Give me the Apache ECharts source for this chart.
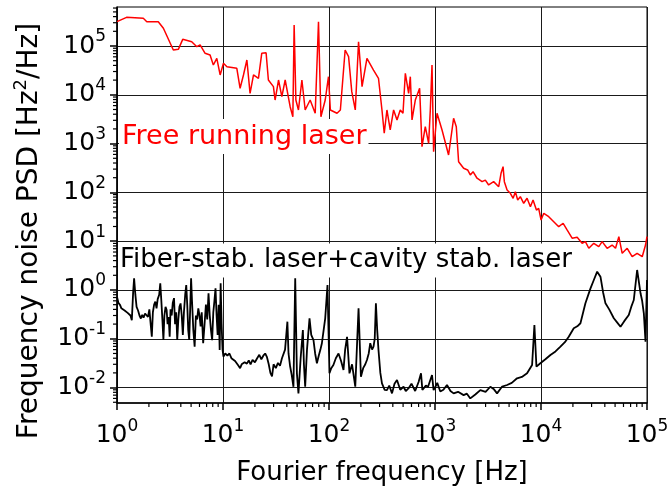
<!DOCTYPE html>
<html>
<head>
<meta charset="utf-8">
<script src="https://cdn.jsdelivr.net/npm/echarts@6/dist/echarts.min.js"></script>
<style>html,body{margin:0;padding:0;background:#fff;}#c{width:672px;height:495px;}</style>
</head>
<body>
<div id="c"></div>
<script>
// ---- Axis tick labels (decades) ----
const xTickValues = [1, 10, 100, 1000, 10000, 100000];
const yTickValues = [0.01, 0.1, 1, 10, 100, 1000, 10000, 100000];
const xMin = 1, xMax = 100000;
const yMin = 0.00483, yMax = 630000;

// ---- Free running laser (red) ----
const redFreq = [1, 1.23, 1.77, 1.91, 2.45, 2.74, 3.40, 3.79, 4.17, 5.07, 5.66, 6.08, 6.78, 7.55, 8.11, 8.74, 9.40, 10.1, 10.9, 13.5,
  14.5, 15.6, 16.8, 18.0, 19.4, 21.6, 23.2, 25.5, 26.8, 29.9, 31.0, 33.4, 35.9, 38.6, 43.0, 45.6, 46.9, 48.7, 51.5, 55.5,
  59.6, 66.4, 74.1, 79.6, 83.9, 92.1, 98.9, 103, 119, 128, 142, 153, 164, 177, 190, 205, 228, 263, 293, 316,
  332, 352, 378, 407, 438, 470, 499, 525, 564, 585, 607, 652, 716, 754, 810, 871, 903, 937, 970, 1045,
  1165, 1343, 1498, 1588, 1670, 1862, 2032, 2153, 2285, 2493, 2780, 2985, 3207, 3575, 3990, 4197, 4386, 4511, 4786, 5140,
  5458, 5731, 6026, 6383, 6866, 7389, 7943, 8414, 9057, 9506, 10020, 10620, 11830, 13190, 14700, 16180, 17620, 19660, 21930, 24430,
  26240, 28240, 31480, 35070, 37760, 42070, 46880, 50470, 54250, 58340, 65010, 72440, 80720, 90160, 96830, 100000];
const redPsd = [315000, 387000, 370000, 315000, 315000, 231000, 82800, 85500, 137000, 122000, 96800, 105000, 70800, 65400, 40800, 56000, 25500, 44200, 37700, 34900,
  13600, 25500, 51600, 10700, 25500, 21800, 70800, 72900, 20100, 14700, 7820, 20100, 9140, 20100, 5700, 3560, 269000, 7820, 4890, 20100,
  4890, 7820, 4180, 315000, 3560, 7820, 23500, 4890, 4180, 4890, 82800, 60400, 11600, 4890, 122000, 14700, 56000, 32200, 21800, 4890,
  1630, 4890, 1900, 4890, 3050, 4890, 4180, 27600, 10700, 23500, 3050, 7820, 13600, 863, 2220, 1010, 4890, 40800, 683, 4180,
  1900, 584, 3300, 2220, 425, 312, 288, 228, 266, 195, 166, 179, 142, 166, 131, 246, 337, 166, 112, 95.9,
  75.7, 103, 69.8, 81.7, 59.8, 75.7, 50.9, 69.8, 43.5, 47.2, 27.2, 37.3, 31.8, 25.1, 19.8, 23.3, 17.0, 11.5, 12.0, 9.06,
  9.78, 7.16, 9.06, 7.71, 9.78, 7.16, 8.35, 7.16, 12.4, 5.65, 7.16, 4.81, 5.65, 4.81, 8.35, 12.4];

// ---- Fiber-stab. laser + cavity stab. laser (black) ----
const blackFreq = [1, 1.03, 1.07, 1.10, 1.14, 1.18, 1.22, 1.26, 1.30, 1.34, 1.38, 1.42, 1.45, 1.49, 1.53, 1.58, 1.63, 1.68, 1.73, 1.78,
  1.84, 1.90, 1.96, 2.02, 2.07, 2.13, 2.18, 2.24, 2.30, 2.36, 2.42, 2.50, 2.56, 2.62, 2.68, 2.74, 2.80, 2.87, 2.94, 3.00,
  3.07, 3.14, 3.20, 3.28, 3.36, 3.45, 3.53, 3.62, 3.70, 3.79, 3.88, 3.98, 4.08, 4.18, 4.28, 4.40, 4.50, 4.60, 4.70, 4.80,
  4.90, 5.00, 5.10, 5.25, 5.40, 5.55, 5.70, 5.85, 6.00, 6.15, 6.30, 6.50, 6.70, 6.90, 7.10, 7.30, 7.50, 7.70, 7.90, 8.10,
  8.30, 8.50, 8.70, 8.90, 9.10, 9.30, 9.50, 9.70, 9.90, 10.1, 10.5, 11.0, 11.5, 12.0, 12.5, 13.0, 13.5, 14.0, 14.5, 15.0,
  15.5, 16.0, 16.8, 17.5, 18.2, 19.0, 20.0, 21.0, 22.0, 23.0, 24.0, 25.0, 26.0, 27.0, 28.0, 29.0, 30.0, 31.5, 33.0, 34.5,
  36.0, 37.0, 38.5, 40.5, 41.5, 43.0, 44.5, 46.2, 48.0, 49.8, 51.5, 54.0, 56.7, 58.0, 59.6, 62.0, 65.5, 68.0, 71.4, 74.0,
  76.9, 80.0, 83.0, 85.7, 89.0, 92.1, 96.8, 101, 105, 110, 116, 123, 130, 137, 142, 148, 156, 165, 177, 184,
  190, 200, 210, 220, 228, 237, 245, 255, 263, 270, 277, 285, 293, 305, 316, 335, 352, 370, 393, 415,
  438, 470, 505, 530, 564, 600, 650, 700, 738, 760, 780, 820, 860, 900, 937, 970, 1000, 1050, 1122, 1200,
  1297, 1400, 1498, 1650, 1862, 2000, 2153, 2400, 2677, 3000, 3326, 3600, 3850, 4300, 4786, 5300, 5943, 6600, 7389, 8241,
  8665, 9057, 9860, 11000, 12270, 13700, 15250, 16800, 18270, 20370, 22000, 23560, 26240, 29300, 31500, 33880, 36390, 38500, 40570, 44000,
  48640, 52000, 56230, 61000, 67300, 71000, 75050, 80720, 86890, 90000, 93350, 96830, 100000];
const blackPsd = [0.73, 0.55, 0.49, 0.42, 0.45, 0.38, 0.40, 0.34, 0.36, 0.30, 0.24, 0.90, 1.74, 0.80, 0.45, 0.38, 0.30, 0.26, 0.31, 0.27,
  0.33, 0.36, 0.28, 0.40, 0.22, 0.11, 0.35, 0.50, 0.58, 0.42, 0.65, 0.80, 1.37, 0.60, 0.25, 0.095, 0.30, 0.45, 0.39, 0.20,
  0.28, 0.11, 0.40, 0.30, 0.55, 0.68, 0.20, 0.35, 0.095, 0.25, 0.45, 0.53, 0.30, 0.12, 0.35, 0.80, 1.26, 0.50, 0.15, 0.095,
  0.40, 1.74, 0.60, 0.15, 0.069, 0.30, 0.25, 0.42, 0.30, 0.18, 0.35, 0.081, 0.20, 0.50, 0.25, 0.86, 0.30, 0.15, 0.094, 0.35,
  0.60, 1.08, 0.30, 0.12, 0.50, 0.059, 1.37, 0.20, 0.060, 0.043, 0.050, 0.045, 0.050, 0.040, 0.043, 0.035, 0.032, 0.028, 0.025, 0.030,
  0.028, 0.033, 0.031, 0.036, 0.030, 0.037, 0.033, 0.040, 0.047, 0.038, 0.045, 0.050, 0.042, 0.030, 0.020, 0.017, 0.030, 0.025, 0.032, 0.028,
  0.040, 0.043, 0.060, 0.224, 0.050, 0.027, 0.018, 0.0104, 1.74, 0.0196, 0.0076, 0.040, 0.151, 0.030, 0.0104, 0.060, 0.263, 0.120, 0.094, 0.050,
  0.0315, 0.045, 0.060, 0.081, 0.150, 0.263, 1.26, 0.0196, 0.025, 0.029, 0.040, 0.050, 0.035, 0.023, 0.060, 0.110, 0.0196, 0.030, 0.0104, 0.080,
  0.421, 0.0167, 0.025, 0.030, 0.0368, 0.050, 0.081, 0.060, 0.069, 0.100, 0.533, 0.150, 0.059, 0.020, 0.0122, 0.0090, 0.0089, 0.011, 0.0076, 0.012,
  0.0143, 0.0090, 0.0104, 0.0085, 0.0097, 0.012, 0.0085, 0.013, 0.0196, 0.0090, 0.0083, 0.011, 0.0104, 0.014, 0.0181, 0.0089, 0.010, 0.0125, 0.0083, 0.0090,
  0.0113, 0.0085, 0.0076, 0.0082, 0.0070, 0.0075, 0.0060, 0.0072, 0.0089, 0.0082, 0.0104, 0.0092, 0.0076, 0.0105, 0.0113, 0.0125, 0.0155, 0.0165, 0.0196, 0.029,
  0.192, 0.0268, 0.0315, 0.038, 0.0466, 0.055, 0.0689, 0.085, 0.110, 0.164, 0.180, 0.208, 0.533, 1.08, 1.60, 2.37, 1.87, 0.90, 0.533, 0.40,
  0.263, 0.220, 0.177, 0.230, 0.308, 0.45, 0.624, 2.57, 0.855, 0.60, 0.333, 0.0873, 1.60];

// ---- Texts ----
const xTitle = 'Fourier frequency [Hz]';
const redLabel = 'Free running laser';
const blackLabel = 'Fiber-stab. laser+cavity stab. laser';

const FONT = 'DejaVu Sans';
function minorTicks(lo, hi) {
  const out = [];
  for (let e = -4; e <= 6; e++) for (let m = 2; m <= 9; m++) {
    const v = m * Math.pow(10, e);
    if (v > lo && v < hi) out.push(v);
  }
  return out;
}
const labelRich = {
  b: { fontFamily: FONT, fontSize: 25, lineHeight: 35, color: '#000', verticalAlign: 'middle' },
  s: { fontFamily: FONT, fontSize: 17, lineHeight: 17, color: '#000', verticalAlign: 'top' }
};
function powFmt(v) {
  const e = Math.round(Math.log10(v));
  return '{b|10}{s|' + e + '}';
}
const xMinor = minorTicks(xMin, xMax);
const yMinor = minorTicks(yMin, yMax);

// minor tick marks placed through the axes' own scales (api.coord)
const tickData = []
  .concat(xMinor.map(v => [v, yMin, 0, 4]))
  .concat(yMinor.map(v => [xMin, v, 1, 4]));

const chart = echarts.init(document.getElementById('c'), null, { renderer: 'canvas' });
const gridLine = { show: true, lineStyle: { color: '#1a1a1a', width: 1 } };
const option = {
  animation: false,
  backgroundColor: '#fff',
  grid: { left: 117, right: 25, top: 7, bottom: 92, show: true, borderColor: '#000', borderWidth: 1 },
  xAxis: {
    type: 'log', logBase: 10, min: xMin, max: xMax, position: 'bottom',
    axisLine: { show: true, lineStyle: { color: '#000', width: 1.5 } },
    axisTick: { show: true, inside: false, length: 7, customValues: xTickValues, lineStyle: { color: '#000', width: 1.5 } },
    axisLabel: { show: true, margin: 15, customValues: xTickValues, formatter: powFmt, rich: labelRich },
    splitLine: gridLine,
    minorTick: { show: false }, minorSplitLine: { show: false },
    name: xTitle, nameLocation: 'middle', nameGap: 57,
    nameTextStyle: { fontFamily: FONT, fontSize: 26, color: '#000' }
  },
  yAxis: {
    type: 'log', logBase: 10, min: yMin, max: yMax, position: 'left',
    axisLine: { show: true, lineStyle: { color: '#000', width: 1.5 } },
    axisTick: { show: true, inside: false, length: 7, customValues: yTickValues, lineStyle: { color: '#000', width: 1.5 } },
    axisLabel: { show: true, margin: 11, customValues: yTickValues, formatter: powFmt, rich: labelRich },
    splitLine: gridLine,
    minorTick: { show: false }, minorSplitLine: { show: false }
  },
  series: [
    {
      type: 'line', name: 'free',
      data: redFreq.map((f, i) => [f, redPsd[i]]),
      showSymbol: false, symbol: 'none', smooth: false,
      lineStyle: { color: '#ff0000', width: 1.5 }, z: 3
    },
    {
      type: 'line', name: 'stab',
      data: blackFreq.map((f, i) => [f, blackPsd[i]]),
      showSymbol: false, symbol: 'none', smooth: false,
      lineStyle: { color: '#000000', width: 1.8 }, z: 3
    },
    {
      type: 'custom', clip: false, z: 5,
      encode: { x: 0, y: 1 },
      data: tickData,
      renderItem: function (params, api) {
        const p = api.coord([api.value(0), api.value(1)]);
        const isY = api.value(2) === 1;
        const len = api.value(3);
        const shape = isY
          ? { x1: p[0] - len, y1: p[1], x2: p[0], y2: p[1] }
          : { x1: p[0], y1: p[1], x2: p[0], y2: p[1] + len };
        return { type: 'line', shape: shape, style: { stroke: '#000', lineWidth: 1.2 } };
      }
    }
  ],
  graphic: [
    {
      type: 'text', x: 30, y: 231, rotation: Math.PI / 2, z: 100,
      style: {
        text: '{a|Frequency noise PSD [Hz}{s|2}{a|/Hz]}',
        align: 'center', verticalAlign: 'middle',
        rich: {
          a: { fontFamily: FONT, fontSize: 28, lineHeight: 36, fill: '#000', verticalAlign: 'middle' },
          s: { fontFamily: FONT, fontSize: 18, lineHeight: 18, fill: '#000', verticalAlign: 'top' }
        }
      }
    },
    {
      type: 'text', x: 119, y: 136.5, z: 100,
      style: {
        text: redLabel, fill: '#ff0000', font: '27px "' + FONT + '"',
        align: 'left', verticalAlign: 'middle', backgroundColor: '#fff', padding: [4, 2, 4, 3]
      }
    },
    {
      type: 'text', x: 118, y: 260.5, z: 100,
      style: {
        text: blackLabel, fill: '#000', font: '26px "' + FONT + '"',
        align: 'left', verticalAlign: 'middle', backgroundColor: '#fff', padding: [4, 3, 4, 2]
      }
    }
  ]
};
chart.setOption(option);
</script>
</body>
</html>
